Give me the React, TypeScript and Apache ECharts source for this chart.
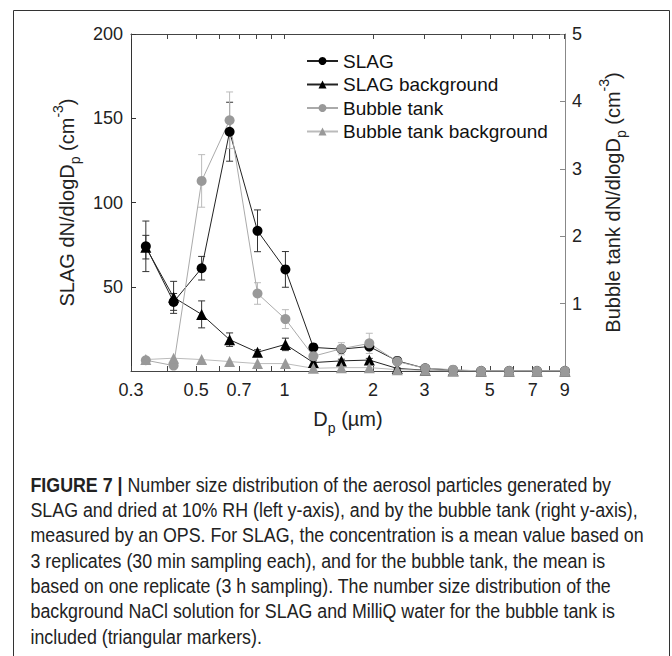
import React, { useEffect, useRef } from "react";
import * as echarts from "echarts";

// Particle diameter (µm), OPS bin midpoints
const dp = [0.337, 0.419, 0.522, 0.65, 0.809, 1.007, 1.254, 1.562, 1.944, 2.421, 3.014, 3.752, 4.672, 5.816, 7.241, 9.016];
// Left axis (SLAG)
const slag = [74, 41, 61, 142, 83.2, 60.3, 14, 13, 14.5, 6, 1.6, 0.5, 0, 0, 0, 0];
const slagErr = [15, 5, 7, 17.5, 12.4, 10.6, 1.5, 1, 1.5, 0.5, 0.3, 0, 0, 0, 0, 0];
const slagBg = [73.5, 43.7, 33.6, 18.6, 11.1, 15.8, 5, 6, 6.5, 1.5, 0.5, 0.1, 0, 0, 0, 0];
const slagBgErr = [7, 9.5, 8, 4, 1.5, 3.7, 1, 1, 1, 0.3, 0, 0, 0, 0, 0, 0];
// Right axis (bubble tank)
const bubble = [0.16, 0.08, 2.82, 3.72, 1.15, 0.77, 0.22, 0.33, 0.41, 0.14, 0.04, 0.02, 0, 0, 0, 0];
const bubbleErr = [0.03, 0.02, 0.39, 0.42, 0.16, 0.14, 0.03, 0.09, 0.15, 0.03, 0.02, 0, 0, 0, 0, 0];
const bubbleBg = [0.17, 0.19, 0.17, 0.14, 0.11, 0.11, 0.04, 0.05, 0.05, 0.02, 0.01, 0, 0, 0, 0, 0];

const xTickValues = [0.3, 0.4, 0.5, 0.6, 0.7, 0.8, 0.9, 1, 2, 3, 4, 5, 6, 7, 8, 9];
const xLabelValues = [0.3, 0.5, 0.7, 1, 2, 3, 5, 7, 9];
const seriesNames = ["SLAG", "SLAG background", "Bubble tank", "Bubble tank background"];

const captionLines = [
  "{b|FIGURE 7 |} Number size distribution of the aerosol particles generated by",
  "SLAG and dried at 10% RH (left y-axis), and by the bubble tank (right y-axis),",
  "measured by an OPS. For SLAG, the concentration is a mean value based on",
  "3 replicates (30 min sampling each), and for the bubble tank, the mean is",
  "based on one replicate (3 h sampling). The number size distribution of the",
  "background NaCl solution for SLAG and MilliQ water for the bubble tank is",
  "included (triangular markers).",
];

const FONT = "Liberation Sans, Arial, sans-serif";
const CAP_FONT = "Liberation Sans, Arial, sans-serif";

const lg = (v: number) => Math.log10(v);

function errData(vals: number[], errs: number[]) {
  return dp.map((d, i) => [lg(d), vals[i] - errs[i], vals[i] + errs[i]]);
}

function errRender(color: string) {
  return (params: any, api: any) => {
    const x = api.value(0);
    const lo = api.coord([x, api.value(1)]);
    const hi = api.coord([x, api.value(2)]);
    const w = 3.5;
    const style = { stroke: color, lineWidth: 1 };
    return {
      type: "group",
      children: [
        { type: "line", shape: { x1: lo[0], y1: lo[1], x2: hi[0], y2: hi[1] }, style },
        { type: "line", shape: { x1: lo[0] - w, y1: lo[1], x2: lo[0] + w, y2: lo[1] }, style },
        { type: "line", shape: { x1: hi[0] - w, y1: hi[1], x2: hi[0] + w, y2: hi[1] }, style },
      ],
    };
  };
}

const richName = {
  sub: { fontSize: 14, verticalAlign: "bottom", lineHeight: 31, fontFamily: FONT, color: "#222" },
  sup: { fontSize: 14, verticalAlign: "top", lineHeight: 31, fontFamily: FONT, color: "#222" },
};

export default function App() {
  const ref = useRef<HTMLDivElement>(null);
  useEffect(() => {
    if (!ref.current) return;
    const chart = echarts.init(ref.current, undefined, { renderer: "svg" });
    const xCommon = {
      type: "value",
      min: lg(0.3),
      max: lg(9.02),
      splitLine: { show: false },
      axisLine: { onZero: false, lineStyle: { color: "#444", width: 1 } },
      axisTick: { inside: true, length: 5, customValues: xTickValues.map(lg), lineStyle: { color: "#444" } },
    };
    const option: any = {
      animation: false,
      backgroundColor: "#fff",
      grid: { left: 131, right: 107, top: 34, bottom: 285, containLabel: false },
      xAxis: [
        {
          ...xCommon,
          position: "bottom",
          name: "D{sub|p} (µm)",
          nameLocation: "middle",
          nameGap: 29,
          nameTextStyle: { fontSize: 20, fontFamily: FONT, color: "#222", lineHeight: 31, rich: richName },
          axisLabel: {
            customValues: xLabelValues.map(lg),
            fontSize: 18,
            fontFamily: FONT,
            color: "#222",
            margin: 10,
            formatter: (v: number) => String(Math.round(Math.pow(10, v) * 10) / 10),
          },
        },
        {
          ...xCommon,
          position: "top",
          axisLabel: { show: false },
        },
      ],
      yAxis: [
        {
          type: "value",
          position: "left",
          min: 0,
          max: 200,
          interval: 50,
          splitLine: { show: false },
          axisLine: { show: true, onZero: false, lineStyle: { color: "#333" } },
          axisTick: { show: true, inside: true, length: 5, lineStyle: { color: "#333" } },
          axisLabel: { showMinLabel: false, fontSize: 18, fontFamily: FONT, color: "#222", margin: 8 },
          name: "SLAG dN/dlogD{sub|p} (cm{sup|-3})",
          nameLocation: "middle",
          nameGap: 46,
          nameTextStyle: { fontSize: 20, fontFamily: FONT, color: "#222", lineHeight: 31, rich: richName },
        },
        {
          type: "value",
          position: "right",
          min: 0,
          max: 5,
          interval: 1,
          splitLine: { show: false },
          axisLine: { show: true, onZero: false, lineStyle: { color: "#888" } },
          axisTick: { show: true, inside: true, length: 5, lineStyle: { color: "#888" } },
          axisLabel: { showMinLabel: false, fontSize: 18, fontFamily: FONT, color: "#222", margin: 7 },
          name: "Bubble tank dN/dlogD{sub|p} (cm{sup|-3})",
          nameLocation: "middle",
          nameGap: 32,
          nameTextStyle: { fontSize: 20, fontFamily: FONT, color: "#222", lineHeight: 31, rich: richName },
        },
      ],
      legend: {
        data: seriesNames,
        orient: "vertical",
        left: 301,
        top: 46,
        itemWidth: 31,
        itemHeight: 10,
        itemGap: 3.5,
        textStyle: { fontSize: 19, fontFamily: FONT, color: "#111", lineHeight: 20 },
      },
      graphic: [
        {
          type: "rect",
          shape: { x: 13.5, y: 10.5, width: 656, height: 700 },
          style: { fill: "none", stroke: "#333", lineWidth: 1 },
          silent: true,
          z: -10,
        },
        ...captionLines.map((t, i) => ({
          type: "text",
          x: 30.5,
          y: 485 + i * 25.3,
          scaleX: 0.89,
          style: {
            text: t,
            fontSize: 20,
            fontFamily: CAP_FONT,
            fill: "#222",
            align: "left",
            verticalAlign: "middle",
            rich: { b: { fontSize: 20, fontWeight: "bold", fontFamily: CAP_FONT, fill: "#222" } },
          },
        })),
      ],
      series: [
        {
          type: "custom",
          xAxisIndex: 0,
          yAxisIndex: 0,
          renderItem: errRender("#333"),
          encode: { x: 0, y: [1, 2] },
          data: errData(slag, slagErr),
          silent: true,
        },
        {
          type: "custom",
          xAxisIndex: 0,
          yAxisIndex: 0,
          renderItem: errRender("#333"),
          encode: { x: 0, y: [1, 2] },
          data: errData(slagBg, slagBgErr),
          silent: true,
        },
        {
          name: "SLAG",
          type: "line",
          xAxisIndex: 0,
          yAxisIndex: 0,
          data: dp.map((d, i) => [lg(d), slag[i]]),
          symbol: "circle",
          symbolSize: 10,
          itemStyle: { color: "#000" },
          lineStyle: { color: "#222", width: 1 },
        },
        {
          name: "SLAG background",
          type: "line",
          xAxisIndex: 0,
          yAxisIndex: 0,
          data: dp.map((d, i) => [lg(d), slagBg[i]]),
          symbol: "triangle",
          symbolSize: 11,
          itemStyle: { color: "#000" },
          lineStyle: { color: "#222", width: 1 },
        },
        {
          type: "custom",
          xAxisIndex: 0,
          yAxisIndex: 1,
          renderItem: errRender("#bbb"),
          encode: { x: 0, y: [1, 2] },
          data: errData(bubble, bubbleErr),
          silent: true,
        },
        {
          name: "Bubble tank",
          type: "line",
          xAxisIndex: 0,
          yAxisIndex: 1,
          data: dp.map((d, i) => [lg(d), bubble[i]]),
          symbol: "circle",
          symbolSize: 10,
          itemStyle: { color: "#999" },
          lineStyle: { color: "#aaa", width: 1 },
        },
        {
          name: "Bubble tank background",
          type: "line",
          xAxisIndex: 0,
          yAxisIndex: 1,
          data: dp.map((d, i) => [lg(d), bubbleBg[i]]),
          symbol: "triangle",
          symbolSize: 11,
          itemStyle: { color: "#999" },
          lineStyle: { color: "#bbb", width: 1 },
        },
      ],
    };
    chart.setOption(option);
    return () => chart.dispose();
  }, []);
  return (
    <div
      ref={ref}
      style={{ position: "absolute", left: 0, top: 0, width: 672, height: 656, background: "#fff" }}
    />
  );
}
